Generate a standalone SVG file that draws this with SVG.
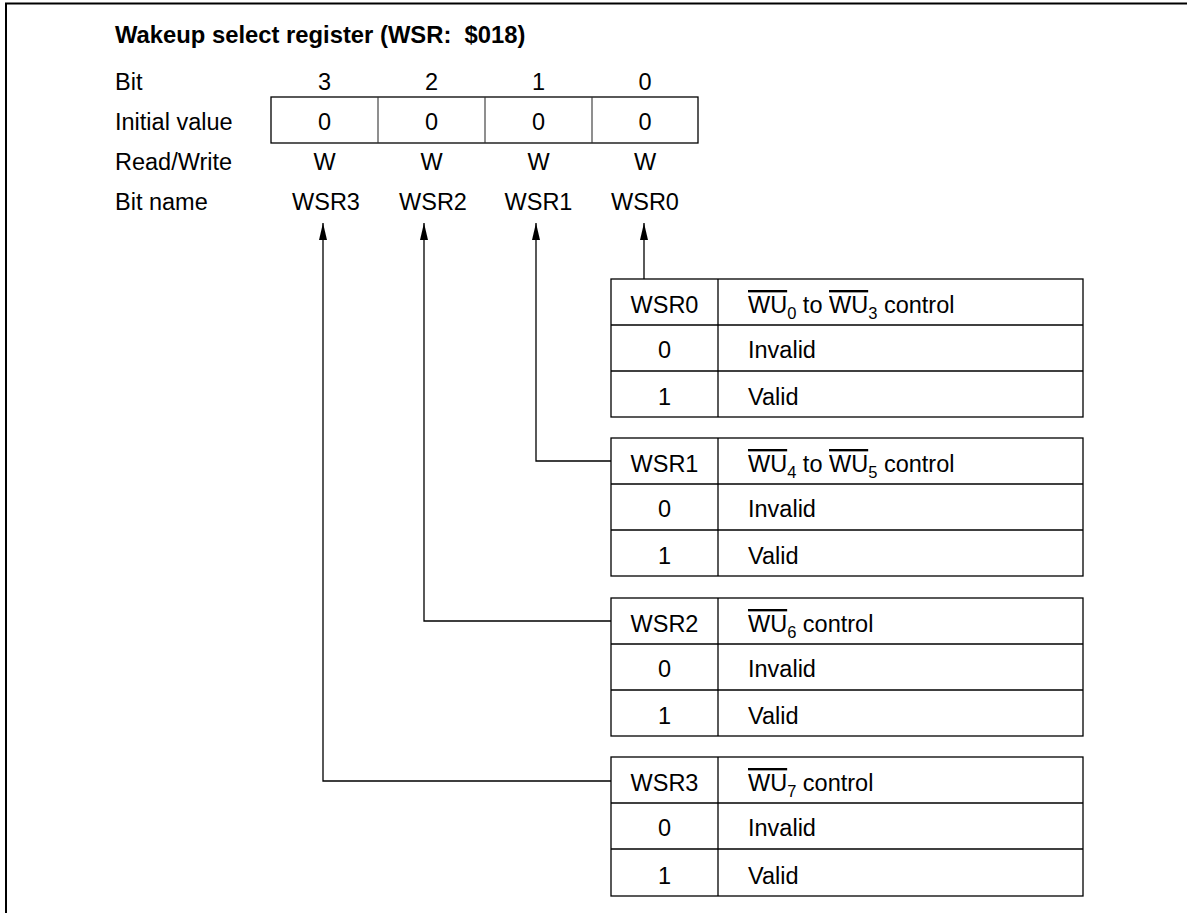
<svg xmlns="http://www.w3.org/2000/svg" width="1187" height="913" viewBox="0 0 1187 913">
<style>
.t{font-family:"Liberation Sans",Arial,Helvetica,sans-serif;font-size:23.5px;fill:#000}
.b{font-weight:bold;font-size:23.8px}
.c{text-anchor:middle}
.ln{stroke:#000;stroke-width:1.3;fill:none}
.bx{stroke:#000;stroke-width:1.3;fill:#fff}
.dv{stroke:#333;stroke-width:1.1}
.ov{text-decoration:overline}
.sb{font-size:16.5px}
</style>
<defs>
<marker id="ah" viewBox="0 0 17 8" refX="17" refY="4" markerWidth="17" markerHeight="8" orient="auto" markerUnits="userSpaceOnUse">
<path d="M0,0 L17,4 L0,8 z" fill="#000"/>
</marker>
</defs>
<rect width="1187" height="913" fill="#fff"/>
<path d="M6,913 V3.5 H1187" stroke="#000" stroke-width="2" fill="none"/>

<g id="register">
<text class="t b" x="115" y="43">Wakeup select register (WSR:&#160; $018)</text>
<text class="t" x="115" y="90">Bit</text>
<text class="t" x="115" y="130">Initial value</text>
<text class="t" x="115" y="170">Read/Write</text>
<text class="t" x="115" y="210">Bit name</text>
<rect class="bx" x="271" y="97" width="427" height="46"/>
<line class="dv" x1="378" y1="97" x2="378" y2="143"/>
<line class="dv" x1="485" y1="97" x2="485" y2="143"/>
<line class="dv" x1="592" y1="97" x2="592" y2="143"/>
<text class="t c" x="324.5" y="90">3</text>
<text class="t c" x="431.5" y="90">2</text>
<text class="t c" x="538.5" y="90">1</text>
<text class="t c" x="645" y="90">0</text>
<text class="t c" x="324.5" y="130">0</text>
<text class="t c" x="431.5" y="130">0</text>
<text class="t c" x="538.5" y="130">0</text>
<text class="t c" x="645" y="130">0</text>
<text class="t c" x="324.5" y="170">W</text>
<text class="t c" x="431.5" y="170">W</text>
<text class="t c" x="538.5" y="170">W</text>
<text class="t c" x="645" y="170">W</text>
<text class="t c" x="326" y="210">WSR3</text>
<text class="t c" x="433" y="210">WSR2</text>
<text class="t c" x="538.5" y="210">WSR1</text>
<text class="t c" x="645" y="210">WSR0</text>
</g>

<g id="connectors">
<path class="ln" d="M644,279 V223" marker-end="url(#ah)"/>
<path class="ln" d="M611,461 H536 V223" marker-end="url(#ah)"/>
<path class="ln" d="M611,621 H424 V223" marker-end="url(#ah)"/>
<path class="ln" d="M611,781 H323 V223" marker-end="url(#ah)"/>
</g>

<g id="wsr0">
<rect class="bx" x="611" y="279" width="472" height="138"/>
<line class="ln" x1="611" y1="325" x2="1083" y2="325"/>
<line class="ln" x1="611" y1="371" x2="1083" y2="371"/>
<line class="ln" x1="718" y1="279" x2="718" y2="417"/>
<text class="t c" x="664.5" y="313">WSR0</text>
<text class="t" x="748" y="313"><tspan class="ov">WU</tspan><tspan class="sb" dy="6">0</tspan><tspan dy="-6"> to </tspan><tspan class="ov">WU</tspan><tspan class="sb" dy="6">3</tspan><tspan dy="-6"> control</tspan></text>
<text class="t c" x="664.5" y="358">0</text>
<text class="t" x="748" y="358">Invalid</text>
<text class="t c" x="664.5" y="405">1</text>
<text class="t" x="748" y="405">Valid</text>
</g>

<g id="wsr1">
<rect class="bx" x="611" y="438" width="472" height="138"/>
<line class="ln" x1="611" y1="484" x2="1083" y2="484"/>
<line class="ln" x1="611" y1="530" x2="1083" y2="530"/>
<line class="ln" x1="718" y1="438" x2="718" y2="576"/>
<text class="t c" x="664.5" y="472">WSR1</text>
<text class="t" x="748" y="472"><tspan class="ov">WU</tspan><tspan class="sb" dy="6">4</tspan><tspan dy="-6"> to </tspan><tspan class="ov">WU</tspan><tspan class="sb" dy="6">5</tspan><tspan dy="-6"> control</tspan></text>
<text class="t c" x="664.5" y="517">0</text>
<text class="t" x="748" y="517">Invalid</text>
<text class="t c" x="664.5" y="564">1</text>
<text class="t" x="748" y="564">Valid</text>
</g>

<g id="wsr2">
<rect class="bx" x="611" y="598" width="472" height="138"/>
<line class="ln" x1="611" y1="644" x2="1083" y2="644"/>
<line class="ln" x1="611" y1="690" x2="1083" y2="690"/>
<line class="ln" x1="718" y1="598" x2="718" y2="736"/>
<text class="t c" x="664.5" y="632">WSR2</text>
<text class="t" x="748" y="632"><tspan class="ov">WU</tspan><tspan class="sb" dy="6">6</tspan><tspan dy="-6"> control</tspan></text>
<text class="t c" x="664.5" y="677">0</text>
<text class="t" x="748" y="677">Invalid</text>
<text class="t c" x="664.5" y="724">1</text>
<text class="t" x="748" y="724">Valid</text>
</g>

<g id="wsr3">
<rect class="bx" x="611" y="757" width="472" height="139"/>
<line class="ln" x1="611" y1="803" x2="1083" y2="803"/>
<line class="ln" x1="611" y1="849" x2="1083" y2="849"/>
<line class="ln" x1="718" y1="757" x2="718" y2="896"/>
<text class="t c" x="664.5" y="791">WSR3</text>
<text class="t" x="748" y="791"><tspan class="ov">WU</tspan><tspan class="sb" dy="6">7</tspan><tspan dy="-6"> control</tspan></text>
<text class="t c" x="664.5" y="836">0</text>
<text class="t" x="748" y="836">Invalid</text>
<text class="t c" x="664.5" y="884">1</text>
<text class="t" x="748" y="884">Valid</text>
</g>
</svg>
